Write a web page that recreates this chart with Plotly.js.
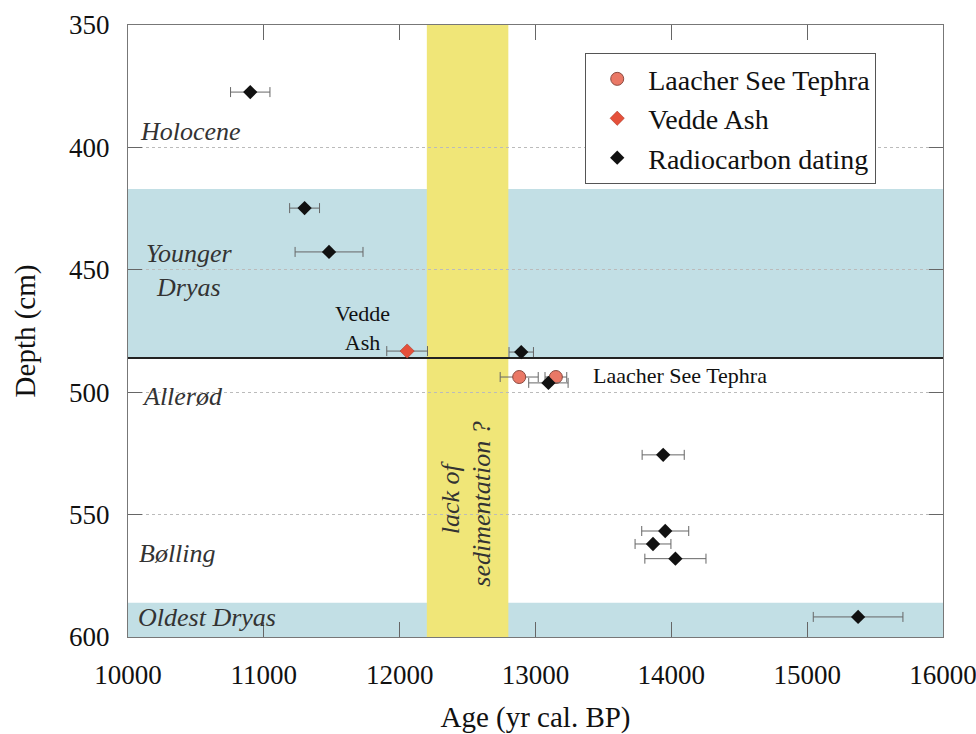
<!DOCTYPE html>
<html>
<head>
<meta charset="utf-8">
<script src="https://cdn.plot.ly/plotly-3.0.1.min.js"></script>
<style>html,body{margin:0;padding:0;background:#fff;}#chart{width:976px;height:734px;}</style>
</head>
<body>
<div id="chart"></div>
<script>
// Radiocarbon dating
const rcAge   = [10900, 11300, 11480, 12895, 13095, 13940, 13955, 13865, 14030, 15375];
const rcDepth = [377.4, 424.8, 442.7, 483.6, 496.2, 525.6, 556.7, 562.0, 568.0, 591.8];
const rcErr   = [145, 110, 250, 90, 145, 155, 173, 132, 225, 330];
// Laacher See Tephra
const lstAge   = [12880, 13150];
const lstDepth = [493.8, 493.8];
const lstErr   = [140, 80];
// Vedde Ash
const vaAge   = [12055];
const vaDepth = [483.2];
const vaErr   = [150];
// Chronozone boundaries (depth, cm) and sedimentation gap (age)
const ydTop = 417, ydBottom = 486;
const odTop = 586, odBottom = 600;
const gapStart = 12200, gapEnd = 12800;
// Zone labels
const zoneNames = ["Holocene", "Younger<br>Dryas", "Allerød", "Bølling", "Oldest Dryas"];
const zoneAge   = [10457, 10450, 10398, 10364, 10585];
const zoneDepth = [393.7, 450.3, 501.8, 565.7, 592.2];

const serif = "Liberation Serif";
const errStyle = {type:'data', visible:true, color:'#666', thickness:1, width:5};

const traces = [
  {x: lstAge, y: lstDepth, name: 'Laacher See Tephra', type:'scatter', mode:'markers',
   marker:{symbol:'circle', size:13, color:'#ea7866', line:{color:'#8a4a40', width:1}},
   error_x: Object.assign({array: lstErr}, errStyle)},
  {x: vaAge, y: vaDepth, name: 'Vedde Ash', type:'scatter', mode:'markers',
   marker:{symbol:'diamond', size:11, color:'#e5503a', line:{color:'#a03020', width:0.5}},
   error_x: Object.assign({array: vaErr}, errStyle)},
  {x: rcAge, y: rcDepth, name: 'Radiocarbon dating', type:'scatter', mode:'markers',
   marker:{symbol:'diamond', size:11, color:'#111'},
   error_x: Object.assign({array: rcErr}, errStyle)}
];

const annotations = zoneNames.map((t,i)=>({
  x: zoneAge[i], y: zoneDepth[i], xref:'x', yref:'y', text:'<i>'+t+'</i>', showarrow:false,
  font:{family:serif, size:26, color:'#333'}, align:'center'
}));
annotations.push({x: 11723, y: 473.6, xref:'x', yref:'y', text:'Vedde<br>Ash', showarrow:false,
  font:{family:serif, size:22, color:'#111'}, align:'center'});
annotations.push({x: 14065, y: 493.3, xref:'x', yref:'y', text:'Laacher See Tephra', showarrow:false,
  font:{family:serif, size:22, color:'#111'}});
annotations.push({x: 12380, y: 542.8, xref:'x', yref:'y',
  text:'<i>lack of</i>', showarrow:false, textangle:-90,
  font:{family:serif, size:26, color:'#333'}});
annotations.push({x: 12600, y: 545.9, xref:'x', yref:'y',
  text:'<i>sedimentation ?</i>', showarrow:false, textangle:-90,
  font:{family:serif, size:26, color:'#333'}});

const layout = {
  width: 976, height: 734,
  margin: {l:128, r:33, t:25, b:97},
  paper_bgcolor:'#fff', plot_bgcolor:'#fff',
  showlegend: true,
  legend: {x:0.561, y:0.954, xanchor:'left', yanchor:'top', bgcolor:'#fff',
           bordercolor:'#555', borderwidth:1, font:{family:serif, size:28, color:'#111'},
           tracegroupgap:0, itemwidth:52},
  xaxis: {range:[10000,16000], dtick:1000, tick0:10000, tickformat:'d', ticks:'inside', ticklen:15, tickcolor:'#666',
          showline:true, linecolor:'#777', linewidth:1, mirror:'ticks', showgrid:false, zeroline:false,
          ticklabelstandoff:14, ticklabeloverflow:'allow',
          tickfont:{family:serif, size:27, color:'#111'},
          title:{text:'Age (yr cal. BP)', font:{family:serif, size:29, color:'#111'}, standoff:18}},
  yaxis: {range:[600,350], autorange:false, dtick:50, tick0:350, ticks:'inside', ticklen:14, tickcolor:'#666',
          showline:true, linecolor:'#777', linewidth:1, mirror:'ticks',
          showgrid:true, gridcolor:'#bbb', griddash:'dot', gridwidth:1, zeroline:false,
          ticklabelstandoff:12, ticklabeloverflow:'allow',
          tickfont:{family:serif, size:27, color:'#111'},
          title:{text:'Depth (cm)', font:{family:serif, size:29, color:'#111'}, standoff:24}},
  shapes: [
    {type:'rect', xref:'paper', yref:'y', x0:0, x1:1, y0:ydTop, y1:ydBottom, fillcolor:'#c2dfe5', line:{width:0}, layer:'below'},
    {type:'rect', xref:'paper', yref:'y', x0:0, x1:1, y0:odTop, y1:odBottom, fillcolor:'#c2dfe5', line:{width:0}, layer:'below'},
    {type:'rect', xref:'x', yref:'paper', x0:gapStart, x1:gapEnd, y0:0, y1:1, fillcolor:'#f0e678', line:{width:0}, layer:'between'},
    {type:'line', xref:'paper', yref:'y', x0:0, x1:1, y0:ydBottom, y1:ydBottom, line:{color:'#222', width:2}, layer:'between'}
  ],
  annotations: annotations
};

Plotly.newPlot('chart', traces, layout, {displayModeBar:false, staticPlot:true});
</script>
</body>
</html>
